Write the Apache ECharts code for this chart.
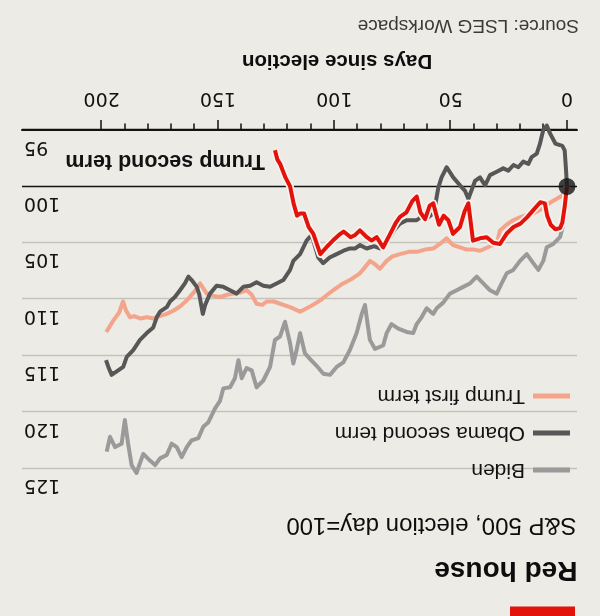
<!DOCTYPE html>
<html><head><meta charset="utf-8">
<script src="https://cdn.jsdelivr.net/npm/echarts@6/dist/echarts.min.js"></script>
<style>
html,body{margin:0;padding:0;background:#ecebe5;}
#wrap{width:600px;height:616px;transform:rotate(180deg);transform-origin:50% 50%;}
#chart{width:600px;height:616px;}
</style>
</head><body><div id="wrap"><div id="chart"></div></div>
<script>
// ---- data (days since election, S&P 500 index, election day = 100) ----
const xMajorTicks = [0, 50, 100, 150, 200];
const xMinorTicks = [0,10,20,30,40,50,60,70,80,90,100,110,120,130,140,150,160,170,180,190,200];
const electionDay = [0, 100];

const trump2Days = [0,1,2,3,5,7,8.5,9.5,11.5,14.5,17,20,23,26,28.8,31.7,34.5,37.4,40.4,42.4,44,46,49,51,53,55,57.5,59,61,63,64.6,66.5,69,71.8,73.5,76,79,81.8,84,86,89,91,93,96,98,100.6,103,106,109,111,113,114.7,116,117.5,119,121,123.3,124.5,125.5];
const trump2Values = [100,101.8,103.2,103.7,103.8,103.4,102.6,101.5,101.4,102.1,102.7,103.3,103.6,104.2,105.1,105.0,104.5,104.6,104.8,101.5,102.2,103.6,104.2,103.0,102.6,103.4,101.5,101.7,102.9,102.3,100.9,101.3,102.3,102.7,103.2,104.2,105.4,104.5,104.8,104.5,103.9,104.3,104.5,104.0,104.3,104.8,105.3,106.0,104.2,103.6,102.4,102.4,102.6,101.5,100.0,99.2,98.0,97.6,96.8];

const obamaDays = [0,0.5,1,2,5,7.3,8.7,10.2,11.6,13,15.2,16.6,18.8,20.9,23,25.2,27.4,30.2,33.1,35.2,37.4,39.5,42.4,43.8,46,48.9,51.7,53.9,55.3,56.5,57.5,60,62,64.6,68.9,71.8,74,76,78,80.4,83,86.1,89,91,93.3,96,99,102,104.8,106.9,109.7,111.9,114.7,117.6,119,121.9,124.8,127.6,130.5,133.4,136.2,139.1,142,144.8,147.7,150.6,153.4,155.5,156.5,158,159.1,161.3,162.7,164.2,166.3,168.5,170.6,172,174.9,176.3,177.8,180.6,183.5,186.4,189.2,190.7,193.5,195.7,197.1,198.1];
const obamaValues = [100,98.3,96.8,96.4,96.2,95.3,94.6,95.0,96.2,97.1,97.4,98.0,97.8,98.3,98.1,98.6,98.4,98.7,99.0,99.9,99.2,99.5,101.1,100.4,99.9,99.2,98.3,99.2,100.1,101.5,102.4,102.8,102.6,103.0,103.0,103.3,103.8,104.5,105.0,105.5,105.3,105.5,105.2,105.5,105.5,105.7,106.0,106.3,106.8,106.3,104.3,104.8,106.0,106.6,107.4,108.3,108.6,108.9,108.8,108.5,108.8,108.9,109.5,109.2,108.9,108.8,109.5,110.5,111.3,109.6,108.9,108.3,108.0,108.6,109.2,109.8,110.2,110.7,111.1,111.6,112.5,113.0,113.6,114.5,115.1,116.0,116.4,116.7,116.0,115.4];

const trump1Days = [0,2,4.4,7,10,14.5,18,21,23.1,26,28.8,30.2,33,37.4,40,43,46,49,51.7,54.6,57.5,61,64.6,68,71.8,75,77.5,80.4,82.5,84.7,87,89,93.3,97,100.4,103,106,110,114.7,119,123.3,126,129,131,133.4,135.5,137.6,140.5,143.3,146,149,152,154.8,157.7,160,163.4,166,169,172,175,177.7,180.5,183.5,186,187.8,189.5,190.8,192.5,195,196.5,198];
const trump1Values = [100,100.8,101.1,101.4,101.9,102.4,102.6,102.8,103.0,103.4,103.9,105.1,105.3,105.7,105.6,105.6,105.4,105.2,104.6,105.1,105.5,105.6,105.8,105.8,106.0,106.2,106.6,107.3,106.9,106.6,107.2,107.7,108.3,108.7,109.2,109.6,110.1,110.6,111.1,110.7,110.4,110.2,110.2,110.5,110.4,109.6,109.2,109.4,109.5,109.6,109.8,109.7,109.5,108.6,109.3,110.1,110.6,111.0,111.3,111.5,111.7,111.6,111.7,111.5,111.6,111.0,110.2,111.2,111.9,112.4,112.9];

const bidenDays = [0,1,2,3,5.9,8.7,10.2,12.3,14.5,17.3,20.2,23.1,25.9,28.1,30.2,33.1,36,38.8,41.7,44.6,47.4,50.3,53.2,56,57.5,60.3,62.5,64.6,66.1,68.9,72.5,75.4,77.5,79,82.5,84.7,86.1,86.8,88.2,90.4,93.3,96.1,99,101.8,104.7,107.6,110.4,112.6,114,114.7,116.2,117.6,119,121.2,123.3,125.5,127.6,130.5,133.4,135.5,137.7,139.8,141.2,142.7,144.8,147.7,149.1,151.3,154.1,156.3,158.4,161.3,163.4,165.6,167.7,169.9,172,174.9,177,179.2,182.1,185,187.1,188.6,190,191.4,194.2,196.4,197.8];
const bidenValues = [100,102.2,103.7,104.5,105.1,105.4,106.6,107.4,106.8,106.0,106.6,107.4,107.7,108.6,109.5,109.2,108.6,108.0,108.6,108.9,109.2,109.5,110.3,110.8,111.3,110.8,111.6,112.2,113.0,112.9,112.6,112.2,113.0,114.1,114.4,113.6,111.6,110.5,111.3,113.0,114.5,115.6,116.0,116.7,116.6,115.9,115.3,114.8,113.6,113.0,114.5,115.7,113.9,112.0,113.3,113.6,116.0,117.2,117.8,116.3,116.1,117.0,115.4,117.0,117.8,117.9,119.0,119.7,120.9,121.3,122.3,122.5,123.1,124.0,123.1,122.8,123.8,124.1,124.7,124.3,123.7,125.4,124.7,122.8,120.7,122.8,123.1,122.2,123.5];

const yTicks = {min: 95, max: 125, step: 5};

// ---- chart ----
const pairs = (d, v) => d.map((x, i) => [x, v[i]]);
const INK = '#121212';
const NUM = '"DejaVu Sans", sans-serif';
const TXT = '"Liberation Sans", Arial, sans-serif';

const chart = echarts.init(document.getElementById('chart'), null, {renderer: 'canvas'});
const lineBase = {type: 'line', showSymbol: false, symbol: 'none', clip: false, smooth: false, xAxisIndex: 0};

chart.setOption({
  backgroundColor: '#ecebe5',
  animation: false,
  grid: {left: 23, right: 22, top: 147.5, bottom: 130},
  legend: {
    data: ['Biden', 'Obama second term', 'Trump first term'],
    orient: 'vertical', left: 25, top: 129, icon: 'rect',
    itemWidth: 37, itemHeight: 5, itemGap: 13, selectedMode: false,
    textStyle: {fontFamily: TXT, fontSize: 21, color: INK, lineHeight: 24, padding: [0, 0, 0, 3]}
  },
  xAxis: [{
    type: 'value', min: -4.3, max: 234.2, position: 'bottom',
    axisLine: {show: true, onZero: false, lineStyle: {color: INK, width: 2}},
    axisTick: {show: true, customValues: xMajorTicks, length: 10, lineStyle: {color: INK, width: 1.5}},
    axisLabel: {customValues: xMajorTicks, fontFamily: NUM, fontSize: 19, color: INK, margin: 32, verticalAlign: 'middle'},
    splitLine: {show: false}
  }, {
    type: 'value', min: -4.3, max: 234.2, position: 'bottom',
    axisLine: {show: false, onZero: false},
    axisTick: {show: true, customValues: xMinorTicks, length: 6.5, lineStyle: {color: INK, width: 1.5}},
    axisLabel: {show: false},
    splitLine: {show: false}
  }],
  yAxis: {
    type: 'value', min: yTicks.min, max: yTicks.max, interval: yTicks.step, position: 'right',
    axisLine: {show: false}, axisTick: {show: false},
    axisLabel: {inside: true, margin: 2, fontFamily: NUM, fontSize: 19, color: INK, verticalAlign: 'bottom', lineHeight: 33},
    splitLine: {show: true, lineStyle: {color: [INK, INK, '#c3c2bd', '#c3c2bd', '#c3c2bd', '#c3c2bd', '#c3c2bd'], width: 1.4}}
  },
  series: [
    Object.assign({}, lineBase, {name: 'Biden', data: pairs(bidenDays, bidenValues), color: '#9a9a9a', z: 2,
      lineStyle: {color: '#9a9a9a', width: 4, join: 'round'}}),
    Object.assign({}, lineBase, {name: 'Trump first term', data: pairs(trump1Days, trump1Values), color: '#f3a48b', z: 3,
      lineStyle: {color: '#f3a48b', width: 4, join: 'round'}}),
    Object.assign({}, lineBase, {name: 'Obama second term', data: pairs(obamaDays, obamaValues), color: '#575757', z: 4,
      lineStyle: {color: '#575757', width: 4, join: 'round'}}),
    Object.assign({}, lineBase, {name: 'halo', data: pairs(trump2Days, trump2Values), z: 5,
      lineStyle: {color: '#f7f2ee', width: 7.5, join: 'round'}}),
    Object.assign({}, lineBase, {name: 'Trump second term', data: pairs(trump2Days, trump2Values), color: '#e3120b', z: 6,
      lineStyle: {color: '#e3120b', width: 4, join: 'round'},
      endLabel: {show: true, formatter: 'Trump second term', offset: [2, -10.5], fontFamily: TXT, fontWeight: 'bold', fontSize: 21.5, color: INK}}),
    {type: 'scatter', name: 'election day', data: [electionDay], symbolSize: 17, itemStyle: {color: '#141414'}, z: 10, clip: false}
  ],
  graphic: [
    {type: 'rect', left: 25, top: 0, shape: {width: 65, height: 9.5}, style: {fill: '#e3120b'}},
    {type: 'text', x: 22.5, y: 46.7, style: {text: 'Red house', font: 'bold 28px "Liberation Sans", Arial, sans-serif', fill: '#0d0d0d', align: 'left', verticalAlign: 'middle'}},
    {type: 'text', x: 23.5, y: 91.5, style: {text: 'S&P 500, election day=100', font: '24px "Liberation Sans", Arial, sans-serif', fill: '#0d0d0d', align: 'left', verticalAlign: 'middle'}},
    {type: 'text', x: 263, y: 555.5, style: {text: 'Days since election', font: 'bold 20.5px "Liberation Sans", Arial, sans-serif', fill: '#0d0d0d', align: 'center', verticalAlign: 'middle'}},
    {type: 'text', x: 21, y: 591, style: {text: 'Source: LSEG Workspace', font: '19px "Liberation Sans", Arial, sans-serif', fill: '#3a3a3a', align: 'left', verticalAlign: 'middle'}}
  ]
});
</script>
</body></html>
